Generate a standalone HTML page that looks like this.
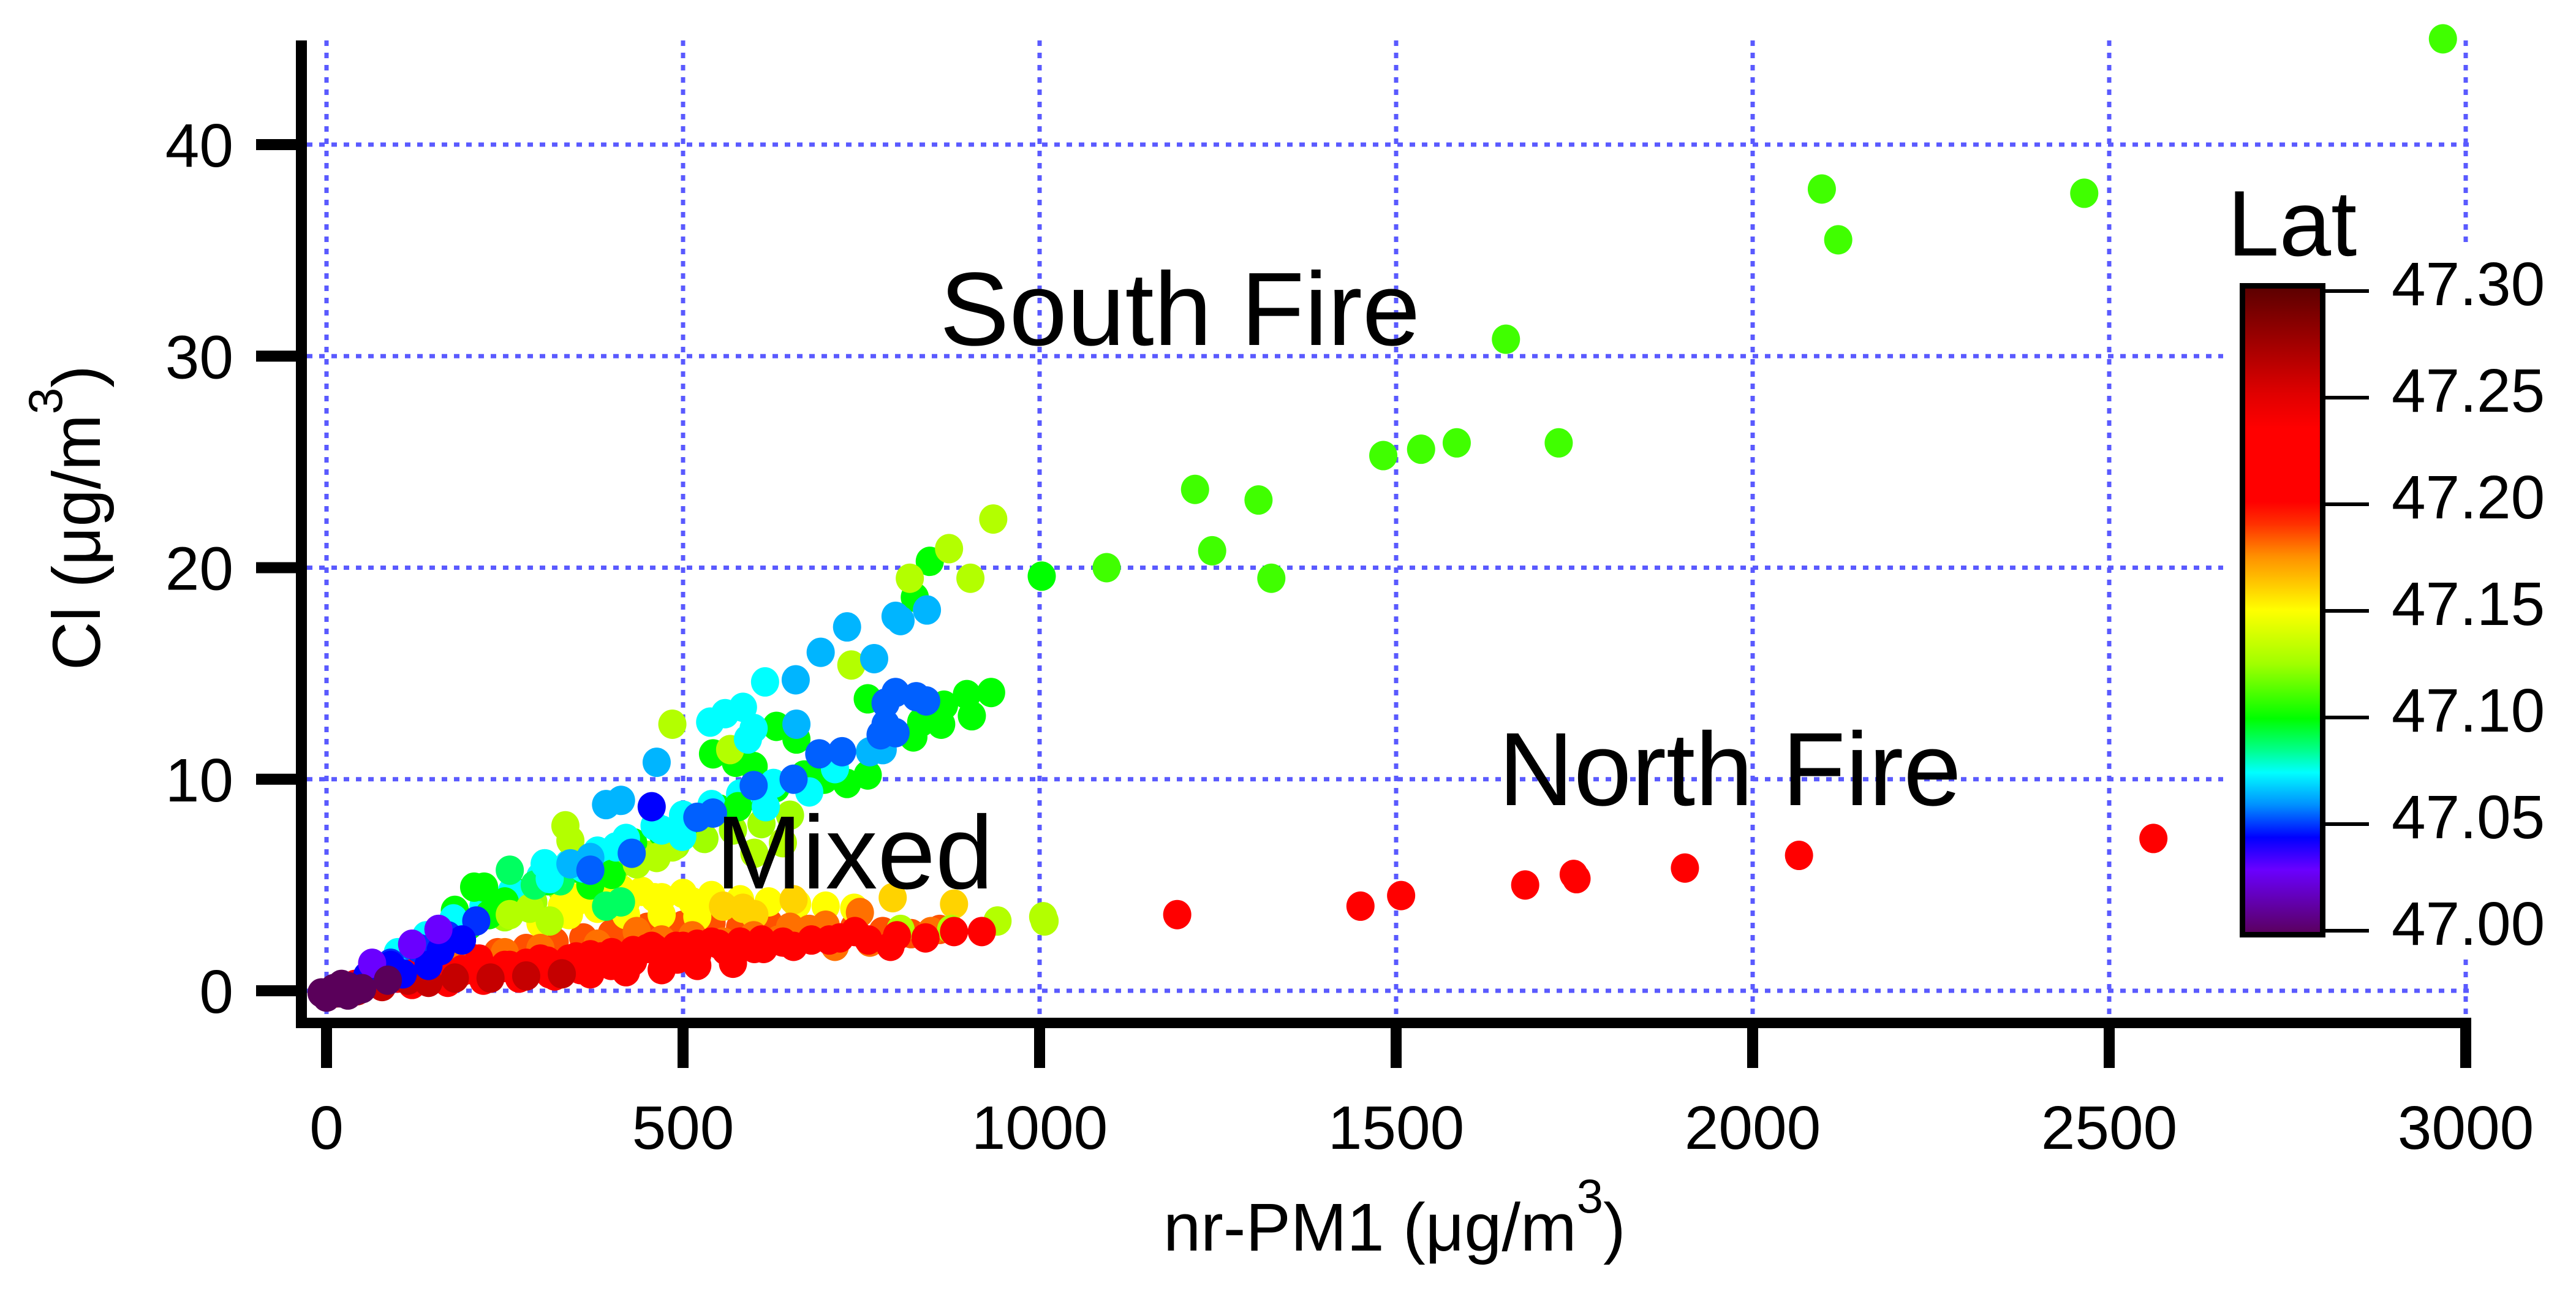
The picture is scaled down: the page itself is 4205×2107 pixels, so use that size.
<!DOCTYPE html>
<html><head><meta charset="utf-8"><title>Cl vs nr-PM1</title>
<style>html,body{margin:0;padding:0;background:#fff;}svg{display:block;font-family:"Liberation Sans",Arial,sans-serif;}</style>
</head><body>
<svg id="chart" width="4205" height="2107" viewBox="0 0 4205 2107" xmlns="http://www.w3.org/2000/svg">
<defs>
<linearGradient id="cbar" x1="0" y1="1" x2="0" y2="0">
<stop offset="0" stop-color="#5a005a"/><stop offset="0.1" stop-color="#6a00ff"/><stop offset="0.15" stop-color="#0000ff"/><stop offset="0.2" stop-color="#0090ff"/><stop offset="0.25" stop-color="#00ffff"/><stop offset="0.283" stop-color="#00ff90"/><stop offset="0.333" stop-color="#00ff00"/><stop offset="0.417" stop-color="#a0ff00"/><stop offset="0.5" stop-color="#ffff00"/><stop offset="0.583" stop-color="#ff9000"/><stop offset="0.633" stop-color="#ff3000"/><stop offset="0.667" stop-color="#ff0000"/><stop offset="0.78" stop-color="#ff0000"/><stop offset="0.833" stop-color="#e00000"/><stop offset="1" stop-color="#5a0000"/>
</linearGradient>
</defs>
<g id="grid"></g>
<g id="marks"></g>
<g id="axes"></g>
<g id="cb"></g>
<text x="1534" y="563" font-size="170">South Fire</text>
<text x="2446" y="1314" font-size="170">North Fire</text>
<text x="1168" y="1450" font-size="170">Mixed</text>
<text x="1899" y="2041" font-size="110">nr-PM1 (μg/m<tspan font-size="78" dy="-62">3</tspan><tspan dy="62">)</tspan></text>
<text transform="translate(163,1094) rotate(-90)" font-size="110">Cl (μg/m<tspan font-size="78" dy="-62">3</tspan><tspan dy="62">)</tspan></text>
</svg>
<script>
const xTicks = [0, 500, 1000, 1500, 2000, 2500, 3000];
const yTicks = [0, 10, 20, 30, 40];
const latTicks = [47.00, 47.05, 47.10, 47.15, 47.20, 47.25, 47.30];
const groupLat = [47.185, 47.15, 47.125, 47.10, 47.075, 47.15, 47.16, 47.18, 47.13, 47.10, 47.11, 47.13, 47.09, 47.075, 47.065, 47.055, 47.21, 47.21, 47.21, 47.26, 47.05, 47.045, 47.03, 47.00, 47.00];
const orangeFillPm = [200,240,280,320,360,400,450,500,540,580,620,660,700,740,780,820,860];
const orangeFillCl = [1.6,1.8,2.0,2.3,2.5,2.7,3.0,3.1,3.2,3.0,3.2,3.1,2.9,3.0,2.8,2.7,2.9];
const yellowFillPm = [300,340,380,420,460,500,540,580,620,660,700,740];
const yellowFillCl = [3.2,3.6,3.9,4.2,4.4,4.6,4.5,4.3,4.2,4.1,4.0,3.9];
const ygFillPm = [250,290,330,370,410,450,490,530,570,610,650];
const ygFillCl = [3.5,4.2,4.8,5.5,6.0,6.4,6.9,7.2,7.6,7.9,8.3];
const greenFillPm = [150,190,230,270,310,350,390,430,470,510,550,590,630,670,710];
const greenFillCl = [2.4,3.2,4.0,4.6,5.2,5.8,6.4,7.0,7.5,8.1,8.6,9.2,9.6,10.2,10.6];
const cyanFillPm = [100,140,180,220,260,300,340,380,420,460,500,540,580];
const cyanFillCl = [1.8,2.6,3.3,4.0,4.7,5.4,6.0,6.6,7.2,7.8,8.3,8.8,9.3];
const yellowPm = [349,385,413,442,470,513,420,470,520,360,330];
const yellowCl = [4.2,4.7,4.8,4.7,4.4,4.2,3.6,3.6,3.5,4.5,4.0];
const goldPm = [556,584,655,794,880,600];
const goldCl = [4.0,3.9,4.3,4.4,4.1,3.6];
const orangePm = [435,470,513,556,599,634,677,713,748,762,848,207,171,300,380,250,650,700];
const orangeCl = [2.8,2.4,2.6,2.3,2.6,2.4,2.9,2.1,3.7,2.3,2.8,1.0,1.2,2.0,2.2,1.8,3.0,3.1];
const ygLowPm = [805,876,941,1005,1007];
const ygLowCl = [2.9,2.9,3.3,3.5,3.3];
const greenPm = [1003,846,825,759,898,932,866,905,834,862,823,759,730,631,659,542,574,599,698,577,221,207,228,200,370,400,250,180];
const greenCl = [19.6,20.3,18.6,13.8,14.0,14.1,13.5,13.0,12.7,12.6,12.0,10.2,9.8,12.5,11.9,11.2,10.8,10.6,10.0,8.7,4.9,4.9,3.6,3.1,5.0,5.5,4.2,3.8];
const southPm = [2968,2097,2120,2465,1654,1482,1535,1585,1728,1218,1307,1242,1325,1094];
const southCl = [45.0,37.9,35.5,37.7,30.8,25.3,25.6,25.9,25.9,23.7,23.2,20.8,19.5,20.0];
const ygPm = [935,873,818,903,736,485,566,335,342,485,463,435,285,257,313,600,640];
const ygCl = [22.3,20.9,19.5,19.5,15.4,12.6,11.4,7.8,7.1,6.8,6.3,6.0,3.9,3.6,3.3,6.5,7.0];
const cyanGreenPm = [257,292,328,306,313,413,392];
const cyanGreenCl = [5.7,5.0,5.2,6.0,5.3,4.2,4.0];
const cyanPm = [615,713,599,591,559,584,538,627,677,616,470,499,406,306,313,178,360];
const cyanCl = [14.6,10.5,12.4,11.9,13.1,13.4,12.7,9.8,9.4,8.7,7.6,7.3,6.8,6.0,5.3,3.4,5.8];
const skyPm = [842,798,805,730,768,693,658,762,780,659,463,413,392,370,342];
const skyCl = [18.0,17.7,17.5,17.2,15.7,16.0,14.7,11.3,11.4,12.6,10.8,9.0,8.8,6.3,6.0];
const bluePm = [798,827,784,841,784,777,798,723,691,599,655,542,520,428,370,157,121];
const blueCl = [14.1,13.9,13.6,13.7,12.6,12.1,12.2,11.3,11.2,9.7,10.0,8.4,8.2,6.5,5.7,2.9,2.1];
const redFillPm = [40,70,100,130,160,190,220,250,280,310,340,370,400,430,460,490,520,550,580,610,640,680,720,760,800,840,880];
const redFillCl = [0.3,0.5,0.6,0.7,0.9,1.0,1.1,1.2,1.3,1.4,1.5,1.7,1.8,1.9,2.0,2.1,2.2,2.2,2.3,2.4,2.3,2.4,2.5,2.4,2.6,2.5,2.8];
const redLowPm = [120,170,220,270,320,370,420,470,520,570];
const redLowCl = [0.3,0.4,0.5,0.6,0.7,0.8,0.9,1.0,1.2,1.3];
const redPm = [741,791,919,456,492,613,655,705,385,342,299,257,214,185,228,271,313,356,399,430,480,520,560,600,300,350,400,450,500,540,580,150,120,90,60,200,250,1193,1450,1507,1681,1753,1749,1905,2065,2562];
const redCl = [2.8,2.1,2.8,2.1,1.5,2.0,2.1,2.4,1.6,1.3,1.2,1.2,1.5,0.8,0.7,0.7,0.8,1.0,1.2,1.4,1.6,1.7,1.9,2.0,1.5,1.6,1.8,2.0,2.1,2.3,2.3,0.9,0.8,0.6,0.4,1.0,1.1,3.6,4.0,4.5,5.0,5.3,5.5,5.8,6.4,7.2];
const darkRedPm = [114,143,78,43,14,180,230,280,330];
const darkRedCl = [0.5,0.4,0.2,0.0,-0.1,0.6,0.6,0.7,0.8];
const blueFillPm = [60,90,130,170,210];
const blueFillCl = [0.8,1.3,2.0,2.6,3.3];
const deepBluePm = [143,107,57,90,456,160,190];
const deepBlueCl = [1.2,0.8,0.7,1.2,8.7,1.9,2.4];
const purplePm = [64,120,157];
const purpleCl = [1.3,2.2,2.9];
const darkPurplePm = [86,21,11,-7,0,30];
const darkPurpleCl = [0.5,0.3,0.0,-0.1,-0.3,-0.2];
const originPm = [0,10,20,30,40,50];
const originCl = [-0.2,0.1,-0.1,0.2,0.0,0.1];

const groupsPm = [orangeFillPm,yellowFillPm,ygFillPm,greenFillPm,cyanFillPm,yellowPm,goldPm,orangePm,ygLowPm,greenPm,southPm,ygPm,cyanGreenPm,cyanPm,skyPm,bluePm,redFillPm,redLowPm,redPm,darkRedPm,blueFillPm,deepBluePm,purplePm,darkPurplePm,originPm];
const groupsCl = [orangeFillCl,yellowFillCl,ygFillCl,greenFillCl,cyanFillCl,yellowCl,goldCl,orangeCl,ygLowCl,greenCl,southCl,ygCl,cyanGreenCl,cyanCl,skyCl,blueCl,redFillCl,redLowCl,redCl,darkRedCl,blueFillCl,deepBlueCl,purpleCl,darkPurpleCl,originCl];

const NS = "http://www.w3.org/2000/svg";
const X = v => 533 + v * (3492 / 3000);
const Y = v => 1617 - v * (1381 / 40);
const LY = v => 1519 - (v - 47.0) * (1044 / 0.3);
const cmapStops = [[47.00,[90,0,90]],[47.03,[106,0,255]],[47.045,[0,0,255]],[47.06,[0,144,255]],[47.075,[0,255,255]],[47.085,[0,255,144]],[47.10,[0,255,0]],[47.125,[160,255,0]],[47.15,[255,255,0]],[47.175,[255,144,0]],[47.19,[255,48,0]],[47.20,[255,0,0]],[47.234,[255,0,0]],[47.25,[224,0,0]],[47.30,[90,0,0]]];
function cmap(l){
  for(let i=0;i<cmapStops.length-1;i++){
    const a=cmapStops[i],b=cmapStops[i+1];
    if(l<=b[0]){const t=Math.max(0,(l-a[0])/(b[0]-a[0]));
      return 'rgb('+a[1].map((c,k)=>Math.round(c+(b[1][k]-c)*t)).join(',')+')';}
  }
  return 'rgb(90,0,0)';
}
function mk(tag, attrs, parent){const e=document.createElementNS(NS,tag);for(const k in attrs)e.setAttribute(k,attrs[k]);parent.appendChild(e);return e;}

const grid=document.getElementById('grid');
xTicks.forEach(v=>{
  const l=mk('line',{x1:X(v),x2:X(v),y1:66,y2:1661,stroke:'#5a5aff','stroke-width':7,'stroke-dasharray':'9 11'},grid);
  
  
});
yTicks.forEach(v=>{
  const l=mk('line',{x1:501,x2:4030,y1:Y(v),y2:Y(v),stroke:'#5a5aff','stroke-width':7,'stroke-dasharray':'9 11'},grid);
  
  
});

const marks=document.getElementById('marks');
groupsPm.forEach((pms,g)=>{
  pms.forEach((p,i)=>{
    const c=mk('ellipse',{cx:X(p),cy:Y(groupsCl[g][i]),rx:23,ry:24,fill:cmap(groupLat[g])},marks);
    
    
  });
});

const axes=document.getElementById('axes');
const la=mk('rect',{x:483,y:66,width:18,height:1612,fill:'#000'},axes);


const ba=mk('rect',{x:483,y:1661,width:3551,height:17,fill:'#000'},axes);


xTicks.forEach(v=>{
  const t=mk('rect',{x:X(v)-9,y:1678,width:18,height:65,fill:'#000'},axes);
  
  
  const tx=mk('text',{x:X(v),y:1875,'font-size':100,'text-anchor':'middle'},axes);
  tx.textContent=String(v);
  
  
});
yTicks.forEach(v=>{
  const t=mk('rect',{x:418,y:Y(v)-9,width:65,height:18,fill:'#000'},axes);
  
  
  const tx=mk('text',{x:381,y:Y(v)+36,'font-size':100,'text-anchor':'end'},axes);
  tx.textContent=String(v);
  
  
});

const cb=document.getElementById('cb');
const bg=mk('rect',{x:3629,y:406,width:576,height:1160,fill:'#fff'},cb);


const bar=mk('rect',{x:3660.5,y:466.5,width:131,height:1059,fill:'url(#cbar)',stroke:'#000','stroke-width':9},cb);


latTicks.forEach(v=>{
  const t=mk('rect',{x:3796,y:LY(v)-3,width:71,height:6,fill:'#000'},cb);
  
  
  const tx=mk('text',{x:3904,y:LY(v)+23,'font-size':100},cb);
  tx.textContent=v.toFixed(2);
  
  
});
const lt=mk('text',{x:3636,y:417,'font-size':152},cb);
lt.textContent='Lat';


</script>
</body></html>
